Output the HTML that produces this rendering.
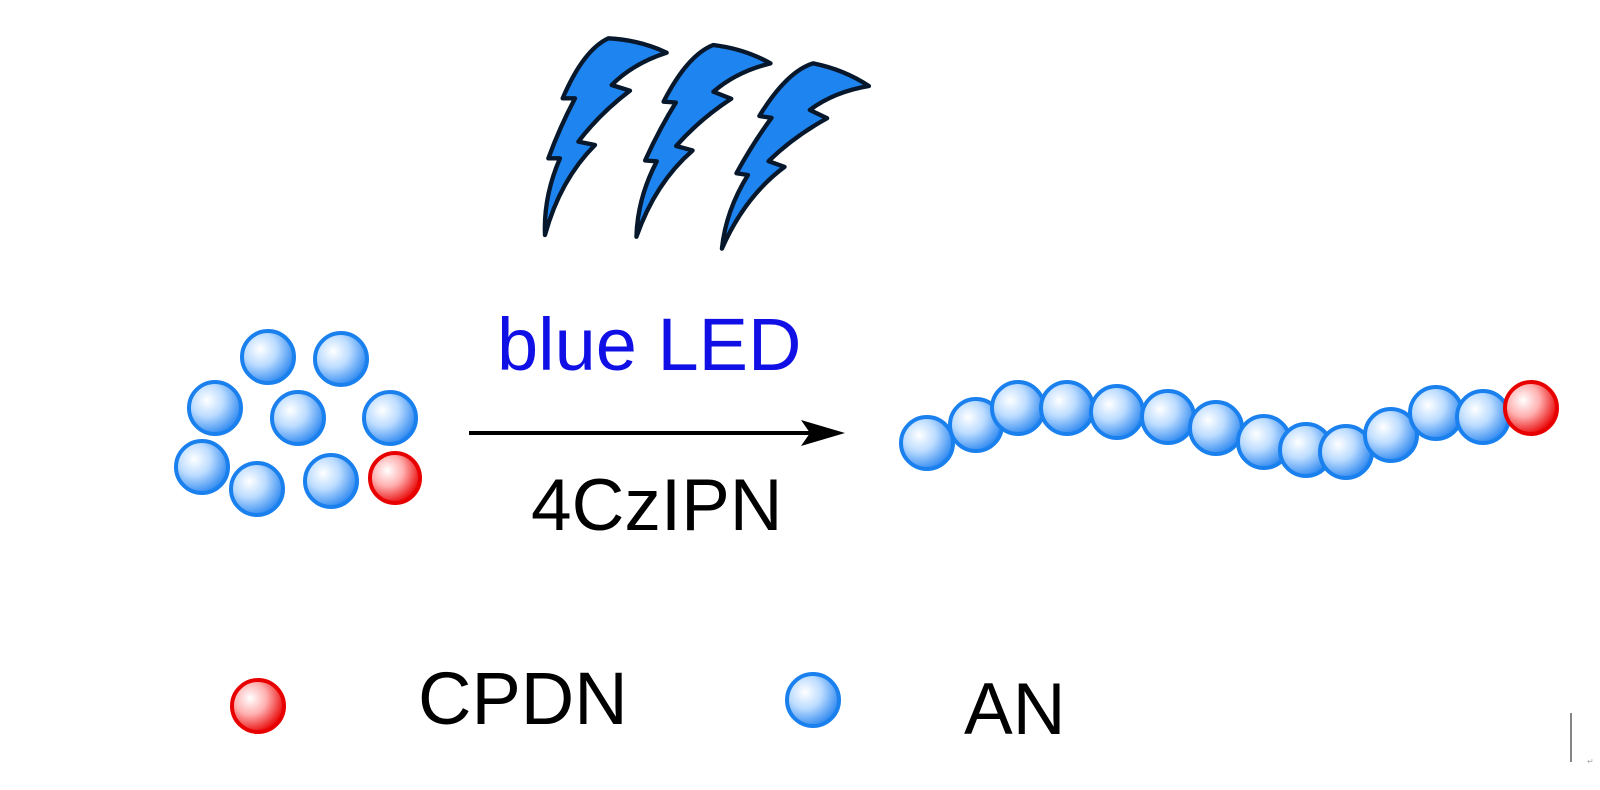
<!DOCTYPE html>
<html><head><style>
html,body{margin:0;padding:0;background:#fff;width:1600px;height:790px;overflow:hidden}
svg text{font-family:"Liberation Sans",Arial,sans-serif}
</style></head><body>
<svg width="1600" height="790" viewBox="0 0 1600 790" xmlns="http://www.w3.org/2000/svg">
<defs>
<radialGradient id="b" cx="0.35" cy="0.35" r="0.7">
<stop offset="0" stop-color="#ffffff"/><stop offset="0.45" stop-color="#bcdcff"/><stop offset="1" stop-color="#2a86f0"/>
</radialGradient>
<radialGradient id="r" cx="0.35" cy="0.35" r="0.7">
<stop offset="0" stop-color="#ffffff"/><stop offset="0.45" stop-color="#ffb0b0"/><stop offset="1" stop-color="#e80000"/>
</radialGradient>
<path id="bolt" d="M265,25 Q360,30 440,68 Q340,100 275,165 L330,182 Q240,250 175,335 L225,345 Q120,450 75,615 Q70,500 120,385 L85,385 Q120,290 165,205 L128,205 Q190,60 265,25 Z"/>
</defs>
<g transform="translate(520,30) scale(0.3333)" fill="#1e84f0" stroke="#07182c" stroke-width="13" stroke-linejoin="round">
<use href="#bolt"/>
<use href="#bolt" transform="translate(315,20) rotate(4 265 25)"/>
<use href="#bolt" transform="translate(615,75) rotate(8.4 265 25)"/>
</g>
<g stroke="#1a80ee" stroke-width="4" fill="url(#b)">
<circle cx="268" cy="357" r="26"/><circle cx="341" cy="359" r="26"/>
<circle cx="215" cy="408" r="26"/><circle cx="298" cy="418" r="26"/><circle cx="390" cy="418" r="26"/>
<circle cx="202" cy="467" r="26"/><circle cx="257" cy="489" r="26"/><circle cx="331" cy="481" r="26"/>
</g>
<circle cx="395" cy="478" r="25" fill="url(#r)" stroke="#e80000" stroke-width="4"/>
<line x1="469" y1="433" x2="832" y2="433" stroke="#000" stroke-width="4"/>
<path d="M845,433 L801,420 L810,433 L801,446 Z" fill="#000"/>
<text x="497" y="370" font-size="74" fill="#1010e6">blue LED</text>
<text x="531" y="530" font-size="73" fill="#000">4CzIPN</text>
<g stroke="#1a80ee" stroke-width="4" fill="url(#b)">
<circle cx="927" cy="443" r="26"/><circle cx="976" cy="425" r="26"/><circle cx="1018" cy="408" r="26"/>
<circle cx="1067" cy="408" r="26"/><circle cx="1117" cy="412" r="26"/><circle cx="1168" cy="417" r="26"/>
<circle cx="1216" cy="428" r="26"/><circle cx="1264" cy="442" r="26"/><circle cx="1306" cy="450" r="26"/>
<circle cx="1346" cy="452" r="26"/><circle cx="1391" cy="435" r="26"/><circle cx="1436" cy="413" r="26"/>
<circle cx="1483" cy="417" r="26"/>
</g>
<circle cx="1531" cy="408" r="26" fill="url(#r)" stroke="#e80000" stroke-width="4"/>
<circle cx="258" cy="706" r="26" fill="url(#r)" stroke="#e80000" stroke-width="4"/>
<circle cx="813" cy="700" r="26" fill="url(#b)" stroke="#1a80ee" stroke-width="4"/>
<text x="418" y="724" font-size="74" fill="#000">CPDN</text>
<text x="964" y="734" font-size="73" fill="#000">AN</text>
<line x1="1571" y1="713" x2="1571" y2="762" stroke="#333" stroke-width="1.2"/>
<text x="1587" y="764" font-size="8" fill="#aaa">↵</text>
</svg>
</body></html>
